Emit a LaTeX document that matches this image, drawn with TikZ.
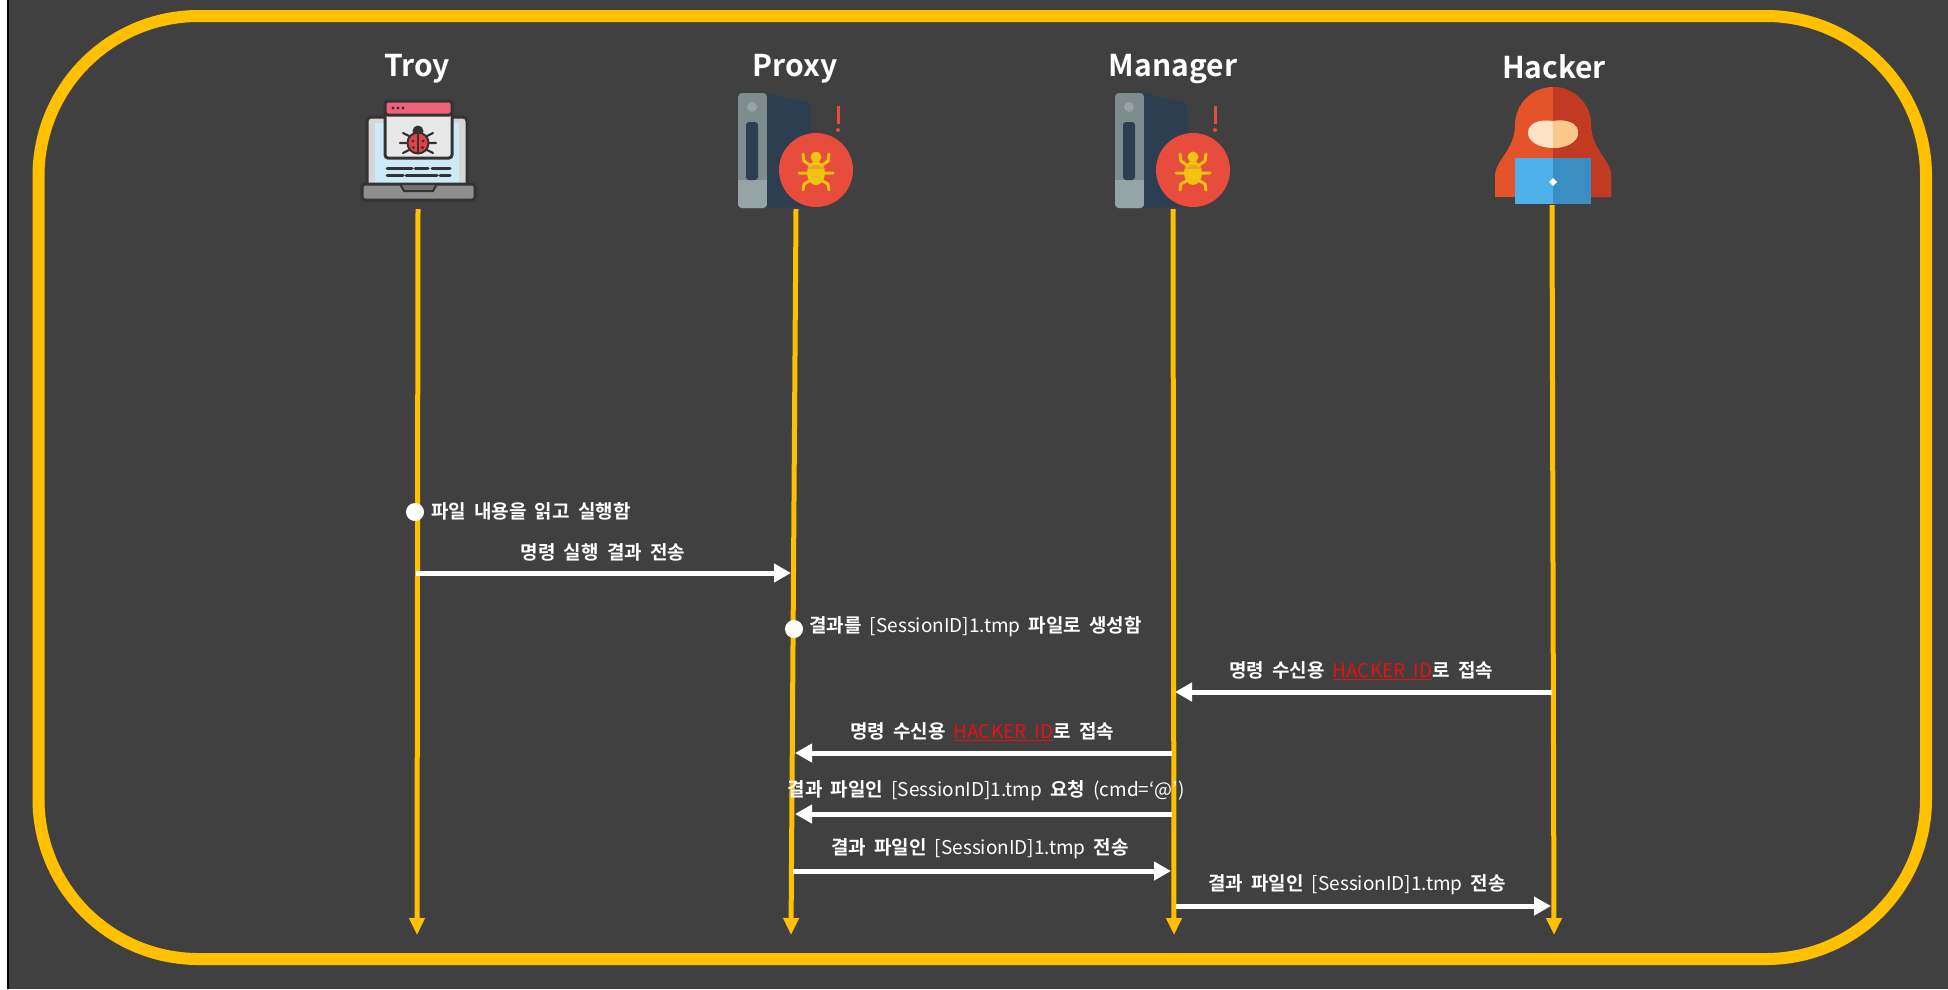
\documentclass[tikz,border=0pt]{standalone}
\usepackage{fontspec}
\setmainfont{Noto Sans CJK KR}[BoldFont={Noto Sans CJK KR Bold}]
\newfontfamily\labelfont{Noto Sans CJK KR}[BoldFont={Noto Sans CJK KR Bold}, WordSpace=1.9]
\usetikzlibrary{arrows.meta}

\definecolor{bg}{HTML}{404040}
\definecolor{gold}{HTML}{FFC000}
\definecolor{idred}{HTML}{E81010}
\definecolor{srvgrey}{HTML}{7F8C8D}
\definecolor{srvlight}{HTML}{95A5A6}
\definecolor{srvnavy}{HTML}{2C3E50}
\definecolor{alertred}{HTML}{E74C3C}
\definecolor{spy}{HTML}{F1C40F}
\definecolor{spyband}{HTML}{F0A020}
\definecolor{ink}{HTML}{333333}
\definecolor{screenblue}{HTML}{CDEAF7}
\definecolor{lapgrey}{HTML}{D6D6D6}
\definecolor{basegrey}{HTML}{8E8E8E}
\definecolor{winbody}{HTML}{E8E8E8}
\definecolor{winpink}{HTML}{F0607A}
\definecolor{ladyred}{HTML}{E5404A}
\definecolor{hoodL}{HTML}{E4532A}
\definecolor{hoodR}{HTML}{C23A22}
\definecolor{faceL}{HTML}{FDE3C5}
\definecolor{faceR}{HTML}{FAC88B}
\definecolor{padL}{HTML}{4DB0E8}
\definecolor{padR}{HTML}{3A8EC2}

% Latin runs inside the Korean labels are set in the lighter weight
\newcommand\latrun[1]{{\mdseries #1}}
\newcommand\hackerid{{\color{idred}\mdseries\underline{HACKER ID}}}

\tikzset{
  % infected server with alert badge
  pics/server/.style={code={
    \fill[srvgrey, rounded corners=4pt] (-58,93) rectangle (-29,208);
    \fill[srvlight, rounded corners=4pt] (-58,180) rectangle (-29,208);
    \fill[srvlight] (-58,180) rectangle (-29,190);
    \fill[srvlight] (-44,107) circle (5);
    \fill[srvnavy, rounded corners=3pt] (-50,122) rectangle (-38,180);
    \fill[srvnavy] (-29,93) -- (14,103) -- (19,206) -- (-29,208) -- cycle;
    \fill[alertred] (20,170) circle (37);
    \fill[alertred] (40.5,106) rectangle (43.5,124);
    \fill[alertred] (42,130) circle (2);
    \begin{scope}[shift={(20,170)}]
      \fill[spy] (0,-13) circle (5.5);
      \fill[spy] (0,3) ellipse (9 and 12);
      \begin{scope}
        \clip (0,3) ellipse (9 and 12);
        \fill[spyband] (-10,-5) rectangle (10,-1);
      \end{scope}
      \draw[spy, line width=3pt, line cap=round, line join=round]
        (-5,-4) -- (-12,-9) -- (-13,-16)
        (5,-4) -- (12,-9) -- (13,-16)
        (-7,3) -- (-17,3)
        (7,3) -- (17,3)
        (-5,10) -- (-12,14) -- (-13,20)
        (5,10) -- (12,14) -- (13,20);
    \end{scope}
  }},
  % laptop with an infected browser window
  pics/laptop/.style={code={
    \filldraw[fill=lapgrey, draw=ink, line width=3pt, rounded corners=4pt] (-51,117) rectangle (49,188);
    \fill[screenblue] (-43,123) rectangle (41,184);
    \draw[ink, line width=3pt, line cap=round]
      (-31,168) -- (-6,168) (-3,168) -- (10,168) (14,168) -- (32,168)
      (-31,175) -- (-15,175) (-12,175) -- (19,175) (22,175) -- (32,175);
    \filldraw[fill=basegrey, draw=ink, line width=3pt, rounded corners=3pt] (-56,184) rectangle (57,200);
    \filldraw[fill=basegrey!80!black, draw=ink, line width=2pt] (-18,184) -- (19,184) -- (15,191) -- (-14,191) -- cycle;
    \filldraw[fill=winbody, draw=ink, line width=3pt, rounded corners=3pt] (-33,101) rectangle (34,158);
    \filldraw[fill=winpink, draw=ink, line width=3pt, rounded corners=3pt] (-33,101) rectangle (34,115);
    \fill[ink] (-25,108) circle (1.6) (-20,108) circle (1.6) (-15,108) circle (1.6);
    \begin{scope}[shift={(0,142)}]
      \draw[ink, line width=2.2pt, line cap=round]
        (-7,-5) -- (-15,-9) (7,-5) -- (15,-9)
        (-9,1) -- (-18,1) (9,1) -- (18,1)
        (-7,7) -- (-15,11) (7,7) -- (15,11);
      \fill[ink] (0,-11) circle (5.5);
      \filldraw[fill=ladyred, draw=ink, line width=2pt] (0,1) circle (10.5);
      \draw[ink, line width=2pt] (0,-9) -- (0,11);
      \fill[ink] (-5,-1) circle (1.6) (5,-1) circle (1.6) (-4.5,5.5) circle (1.6) (4.5,5.5) circle (1.6);
    \end{scope}
  }},
  % hooded figure behind a laptop (y grows downwards, so the dome runs 180 -> 360)
  pics/hooded/.style={code={
    \def\hood{(-38,125) arc[start angle=180, end angle=360, radius=38] .. controls (38,150) and (58,160) .. (58,176) -- (58,197) -- (-58,197) -- (-58,176) .. controls (-58,160) and (-38,150) .. (-38,125) -- cycle}
    \fill[hoodL] \hood;
    \begin{scope}
      \clip (0,80) rectangle (70,210);
      \fill[hoodR] \hood;
    \end{scope}
    \fill[faceL] (0,121) .. controls (-14,119) and (-25,123) .. (-25,133) .. controls (-25,142) and (-13,148) .. (0,148) .. controls (13,148) and (25,142) .. (25,133) .. controls (25,123) and (14,119) .. (0,121) -- cycle;
    \begin{scope}
      \clip (0,110) rectangle (30,150);
      \fill[faceR] (0,121) .. controls (14,119) and (25,123) .. (25,133) .. controls (25,142) and (13,148) .. (0,148) -- cycle;
    \end{scope}
    \fill[padL] (-38,158) rectangle (0,204);
    \fill[padR] (0,158) rectangle (38,204);
    \fill[white] (0,178) -- (4,182) -- (0,186) -- (-4,182) -- cycle;
  }},
}

\begin{document}
\begin{tikzpicture}[x=1pt, y=-1pt,
  lifeline/.style={draw=gold, line width=5pt, -{Triangle[length=17pt,width=15pt]}},
  msg/.style={draw=white, line width=5pt, -{Triangle[length=17pt,width=18pt]}},
  actdot/.style={circle, fill=white, minimum size=18pt, inner sep=0pt},
  actor/.style={text=white, font=\fontsize{30}{36}\selectfont\bfseries},
  lbl/.style={text=white, font=\labelfont\fontsize{19}{23}\selectfont\bfseries, inner sep=0pt},
]
% canvas
\fill[bg] (0,0) rectangle (1948,989);
\fill[white] (0,0) rectangle (7,989);
\fill[black] (7,0) rectangle (9,989);
\useasboundingbox (0,0) rectangle (1948,989);
\draw[gold, line width=12pt, rounded corners=160pt] (38.5,16) rectangle (1926,959);

% participants
\node[actor] (troy) at (417,69) {Troy};
\node[actor] (proxy) at (795,69) {Proxy};
\node[actor] (mgr) at (1173,69) {Manager};
\node[actor] (hack) at (1554,67) {Hacker};

\pic at (418,0) {laptop};
\pic at (796,0) {server};
\pic at (1173,0) {server};
\pic at (1553,0) {hooded};

% lifelines
\coordinate (troyT) at (418,209);  \coordinate (troyB) at (417,935);
\coordinate (proxyT) at (796,209); \coordinate (proxyB) at (791,935);
\coordinate (mgrT) at (1173,209);  \coordinate (mgrB) at (1174,935);
\coordinate (hackT) at (1552,205); \coordinate (hackB) at (1554,935);
\draw[lifeline] (troyT) -- (troyB);
\draw[lifeline] (proxyT) -- (proxyB);
\draw[lifeline] (mgrT) -- (mgrB);
\draw[lifeline] (hackT) -- (hackB);

% message end points
\coordinate (m2s) at (416,573);  \coordinate (m2e) at (791,573);
\coordinate (m4s) at (1552,692); \coordinate (m4e) at (1175,692);
\coordinate (m5s) at (1172,753); \coordinate (m5e) at (795,753);
\coordinate (m6s) at (1172,814); \coordinate (m6e) at (795,814);
\coordinate (m7s) at (793,871);  \coordinate (m7e) at (1171,871);
\coordinate (m8s) at (1176,906); \coordinate (m8e) at (1551,906);

% activity marks
\node[actdot] (d1) at (415,512) {};
\node[actdot] (d3) at (794,629) {};

% messages
\draw[msg] (m2s) -- (m2e);
\draw[msg] (m4s) -- (m4e);
\draw[msg] (m5s) -- (m5e);
\draw[msg] (m6s) -- (m6e);
\draw[msg] (m7s) -- (m7e);
\draw[msg] (m8s) -- (m8e);

% labels
\node[lbl, anchor=west] (t1) at (431,511) {파일 내용을 읽고 실행함};
\node[lbl] (t2) at (603,552) {명령 실행 결과 전송};
\node[lbl, anchor=west] (t3) at (809,627) {결과를 \latrun{[SessionID]1.tmp} 파일로 생성함};
\node[lbl] (t4) at (1361,671) {명령 수신용 \hackerid 로 접속};
\node[lbl] (t5) at (982,732) {명령 수신용 \hackerid 로 접속};
\node[lbl] (t6) at (986,791) {결과 파일인 \latrun{[SessionID]1.tmp} 요청 \latrun{(cmd=‘@’)}};
\node[lbl] (t7) at (980,849) {결과 파일인 \latrun{[SessionID]1.tmp} 전송};
\node[lbl] (t8) at (1357,885) {결과 파일인 \latrun{[SessionID]1.tmp} 전송};
\end{tikzpicture}
\end{document}
